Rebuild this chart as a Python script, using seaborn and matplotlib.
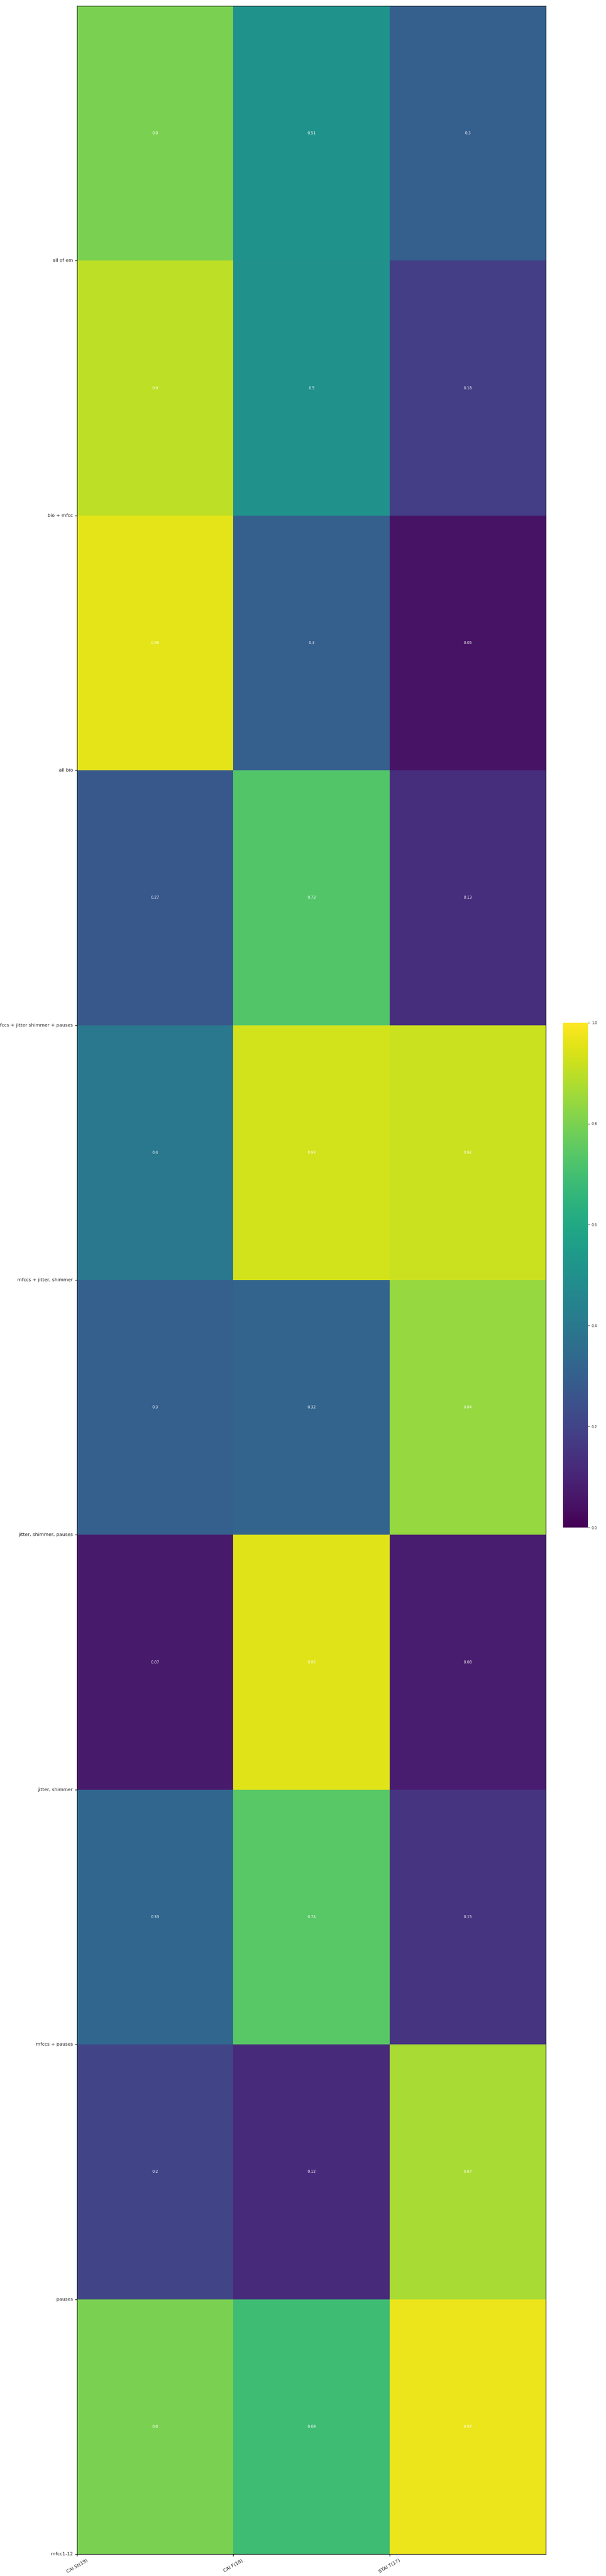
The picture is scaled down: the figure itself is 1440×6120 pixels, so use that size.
import matplotlib
matplotlib.use("Agg")
import matplotlib.pyplot as plt
import numpy as np
import pandas as pd
import seaborn as sns

# feature sets, top row first
feature_sets = [
    "all of em",
    "bio + mfcc",
    "all bio",
    "mfccs + jitter shimmer + pauses",
    "mfccs + jitter, shimmer",
    "jitter, shimmer, pauses",
    "jitter, shimmer",
    "mfccs + pauses",
    "pauses",
    "mfcc1-12",
]
targets = ["CAI St(19)", "CAI F(18)", "STAI T(17)"]

cai_st = [0.8, 0.9, 0.96, 0.27, 0.4, 0.3, 0.07, 0.33, 0.2, 0.8]
cai_f = [0.51, 0.5, 0.3, 0.73, 0.93, 0.32, 0.95, 0.74, 0.12, 0.69]
stai_t = [0.3, 0.18, 0.05, 0.13, 0.92, 0.84, 0.08, 0.15, 0.87, 0.97]

df = pd.DataFrame({"CAI St(19)": cai_st, "CAI F(18)": cai_f, "STAI T(17)": stai_t},
                  index=feature_sets)

sns.set_style("white")
fig = plt.figure(figsize=(14.4, 61.2), dpi=100)
ax = fig.add_axes([0.127, 0.0085, 0.774, 0.9892])
cax = fig.add_axes([0.929, 0.407, 0.041, 0.196])

sns.heatmap(df, ax=ax, cmap="viridis", vmin=0, vmax=1, cbar_ax=cax,
            annot=True, fmt="g", annot_kws={"color": "white", "fontsize": 6.5})

# ticks sit on the cell borders like in the original plot
ax.set_xticks(np.arange(len(targets)))
ax.set_xticklabels(targets, rotation=30, ha="center", fontsize=8)
ax.set_yticks(np.arange(1, len(feature_sets) + 1))
ax.set_yticklabels(feature_sets, rotation=0, fontsize=8)
ax.tick_params(axis="both", length=3.5, width=1, color="black", left=True, bottom=True)
ax.set_xlabel("")
ax.set_ylabel("")
for sp in ax.spines.values():
    sp.set_visible(True)
    sp.set_color("black")
    sp.set_linewidth(1)

cbar = ax.collections[0].colorbar
cbar.set_ticks([0.0, 0.2, 0.4, 0.6, 0.8, 1.0])
cbar.ax.tick_params(labelsize=6, length=3, right=True)
cbar.outline.set_visible(True)
cbar.outline.set_edgecolor("black")

fig.savefig("out.png", dpi=100)
